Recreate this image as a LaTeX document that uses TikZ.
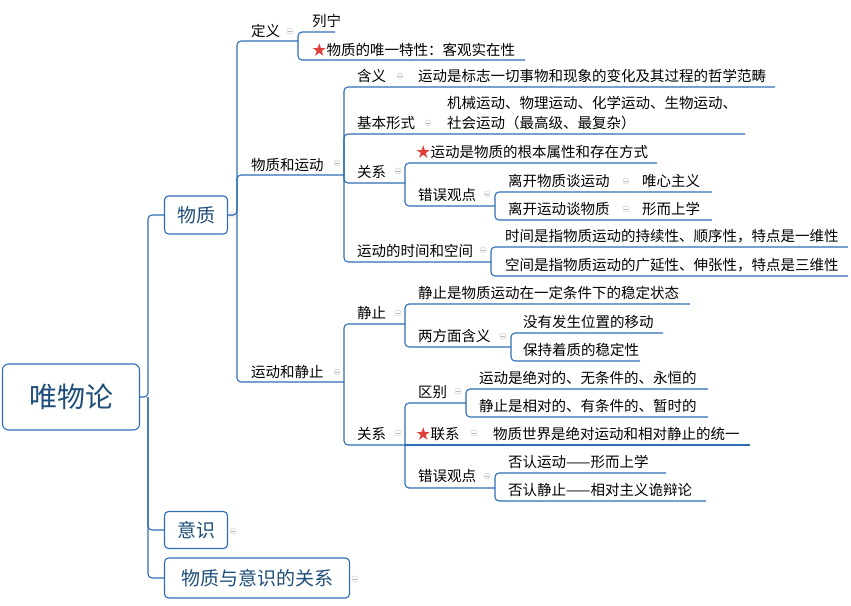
\documentclass[tikz,border=0pt]{standalone}
\usepackage{fontspec}
\newfontfamily\cjk{Noto Sans CJK SC}
\definecolor{lineblue}{HTML}{2E6DB4}
\definecolor{boxtext}{HTML}{1F4E79}
\definecolor{starred}{HTML}{E0403A}
\newcommand{\hx}{{\color{starred}★}}
\begin{document}
\begin{tikzpicture}[x=1pt,y=-1pt,
  line/.style={draw=lineblue,line width=1.1pt,rounded corners=4pt},
  lbl/.style={anchor=base west,inner sep=0pt,font=\cjk\fontsize{14.5}{19}\selectfont},
  topbox/.style={draw=lineblue,line width=1.1pt,rounded corners=4pt,text=boxtext,font=\cjk\fontsize{19}{22}\selectfont},
  fold/.style={circle,draw=gray!45,fill=white,inner sep=0pt,minimum size=6pt,
    path picture={\draw[gray!55] ([xshift=1.3pt]path picture bounding box.west) -- ([xshift=-1.3pt]path picture bounding box.east);}}]
  \useasboundingbox (0,0) rectangle (851,605);

  % root and first level
  \node[topbox,minimum width=137pt,minimum height=66pt,rounded corners=6pt,font=\cjk\fontsize{28}{30}\selectfont] (root) at (71,397) {唯物论};
  \node[topbox,minimum width=63pt,minimum height=38pt] (wz) at (196,215) {物质};
  \node[topbox,minimum width=63pt,minimum height=37pt] (ys) at (196,530) {意识};
  \node[topbox,minimum width=185pt,minimum height=40pt] (gx) at (257,578) {物质与意识的关系};
  \coordinate (j0) at (148,397);
  \draw[line] (root.east) -- (j0) |- (wz.west);
  \draw[line] (j0) |- (ys.west);
  \draw[line] (j0) |- (gx.west);
  \node[fold] at (232,215) {};
  \node[fold] at (233,531) {};
  \node[fold] at (355,579) {};

  % 物质
  \coordinate (j1) at (237,215);
  \coordinate (dingyi-e) at (298,41);
  \coordinate (yundong-e) at (344,175);
  \coordinate (dongjing-e) at (344,382);
  \draw[line] (wz.east) -- (j1) |- (dingyi-e);
  \draw[line] (j1) |- (yundong-e);
  \draw[line] (j1) |- (dongjing-e);
  \node[lbl] (dingyi) at (251,36) {定义};
  \node[lbl] (yundong) at (251,170) {物质和运动};
  \node[lbl] (dongjing) at (251,377) {运动和静止};
  \node[fold] at (290,31) {};
  \node[fold] at (337,163) {};
  \node[fold] at (337,372) {};

  % 定义
  \coordinate (liening-e) at (335,32);
  \coordinate (weiyi-e) at (525,60);
  \draw[line] (dingyi-e) |- (liening-e);
  \draw[line] (dingyi-e) |- (weiyi-e);
  \node[lbl] (liening) at (312,27) {列宁};
  \node[lbl] (weiyi) at (312,55) {\hx 物质的唯一特性：客观实在性};

  % 物质和运动
  \coordinate (hanyi-e) at (775,87);
  \coordinate (xingshi-e) at (745,134);
  \coordinate (guanxi-e) at (405,183);
  \coordinate (shikong-e) at (491,262);
  \draw[line] (yundong-e) |- (hanyi-e);
  \draw[line] (yundong-e) |- (xingshi-e);
  \draw[line] (yundong-e) |- (guanxi-e);
  \draw[line] (yundong-e) |- (shikong-e);
  \node[lbl] (hanyi) at (357,81) {含义};
  \node[fold] at (400,76) {};
  \node[lbl] (hanyi-t) at (418,81) {运动是标志一切事物和现象的变化及其过程的哲学范畴};
  \node[lbl] (xingshi) at (357,128) {基本形式};
  \node[fold] at (428,123) {};
  \node[lbl] (xingshi-a) at (447,108) {机械运动、物理运动、化学运动、生物运动、};
  \node[lbl] (xingshi-b) at (447,128) {社会运动（最高级、最复杂）};
  \node[lbl] (guanxi) at (357,177) {关系};
  \node[fold] at (398,171) {};
  \node[lbl] (shikong) at (357,256) {运动的时间和空间};
  \node[fold] at (483,250) {};

  % 关系
  \coordinate (gbshu-e) at (657,163);
  \coordinate (cuowu-e) at (495,206);
  \draw[line] (guanxi-e) |- (gbshu-e);
  \draw[line] (guanxi-e) |- (cuowu-e);
  \node[lbl] (gbshu) at (416,157) {\hx 运动是物质的根本属性和存在方式};
  \node[lbl] (cuowu) at (418,200) {错误观点};
  \node[fold] at (487,194) {};
  \coordinate (likai1-e) at (712,192);
  \coordinate (likai2-e) at (712,220);
  \draw[line] (cuowu-e) |- (likai1-e);
  \draw[line] (cuowu-e) |- (likai2-e);
  \node[lbl] (likai1) at (508,186) {离开物质谈运动};
  \node[fold] at (626,181) {};
  \node[lbl] (weixin) at (642,186) {唯心主义};
  \node[lbl] (likai2) at (508,214) {离开运动谈物质};
  \node[fold] at (626,209) {};
  \node[lbl] (xingershang) at (642,214) {形而上学};

  % 运动的时间和空间
  \coordinate (shijian-e) at (848,247);
  \coordinate (kongjian-e) at (848,276);
  \draw[line] (shikong-e) |- (shijian-e);
  \draw[line] (shikong-e) |- (kongjian-e);
  \node[lbl] (shijian) at (505,241) {时间是指物质运动的持续性、顺序性，特点是一维性};
  \node[lbl] (kongjian) at (505,270) {空间是指物质运动的广延性、伸张性，特点是三维性};

  % 运动和静止
  \coordinate (jingzhi-e) at (405,324);
  \coordinate (guanxi2-e) at (405,445);
  \draw[line] (dongjing-e) |- (jingzhi-e);
  \draw[line] (dongjing-e) |- (guanxi2-e);
  \node[lbl] (jingzhi) at (357,318) {静止};
  \node[fold] at (398,313) {};
  \node[lbl] (guanxi2) at (357,439) {关系};
  \node[fold] at (398,433) {};

  % 静止
  \coordinate (jzdef-e) at (690,304);
  \coordinate (liangfm-e) at (511,347);
  \draw[line] (jingzhi-e) |- (jzdef-e);
  \draw[line] (jingzhi-e) |- (liangfm-e);
  \node[lbl] (jzdef) at (418,298) {静止是物质运动在一定条件下的稳定状态};
  \node[lbl] (liangfm) at (418,341) {两方面含义};
  \node[fold] at (503,336) {};
  \coordinate (meiyou-e) at (663,333);
  \coordinate (baochi-e) at (640,361);
  \draw[line] (liangfm-e) |- (meiyou-e);
  \draw[line] (liangfm-e) |- (baochi-e);
  \node[lbl] (meiyou) at (523,327) {没有发生位置的移动};
  \node[lbl] (baochi) at (523,355) {保持着质的稳定性};

  % 关系（运动和静止）
  \coordinate (qubie-e) at (466,403);
  \coordinate (lianxi-e) at (750,445);
  \coordinate (cuowu2-e) at (495,488);
  \draw[line] (guanxi2-e) |- (qubie-e);
  \draw[line] (guanxi2-e) -- (lianxi-e);
  \draw[line] (guanxi2-e) |- (cuowu2-e);
  \node[lbl] (qubie) at (418,397) {区别};
  \node[fold] at (458,391) {};
  \node[lbl] (lianxi) at (416,439) {\hx 联系};
  \node[fold] at (474,433) {};
  \node[lbl] (tongyi) at (493,439) {物质世界是绝对运动和相对静止的统一};
  \node[lbl] (cuowu2) at (418,481) {错误观点};
  \node[fold] at (487,476) {};
  \coordinate (juedui-e) at (708,389);
  \coordinate (xiangdui-e) at (708,417);
  \draw[line] (qubie-e) |- (juedui-e);
  \draw[line] (qubie-e) |- (xiangdui-e);
  \node[lbl] (juedui) at (479,383) {运动是绝对的、无条件的、永恒的};
  \node[lbl] (xiangdui) at (479,411) {静止是相对的、有条件的、暂时的};
  \coordinate (fouren1-e) at (666,473);
  \coordinate (fouren2-e) at (706,501);
  \draw[line] (cuowu2-e) |- (fouren1-e);
  \draw[line] (cuowu2-e) |- (fouren2-e);
  \node[lbl] (fouren1) at (508,467) {否认运动——形而上学};
  \node[lbl] (fouren2) at (508,495) {否认静止——相对主义诡辩论};
\end{tikzpicture}
\end{document}
